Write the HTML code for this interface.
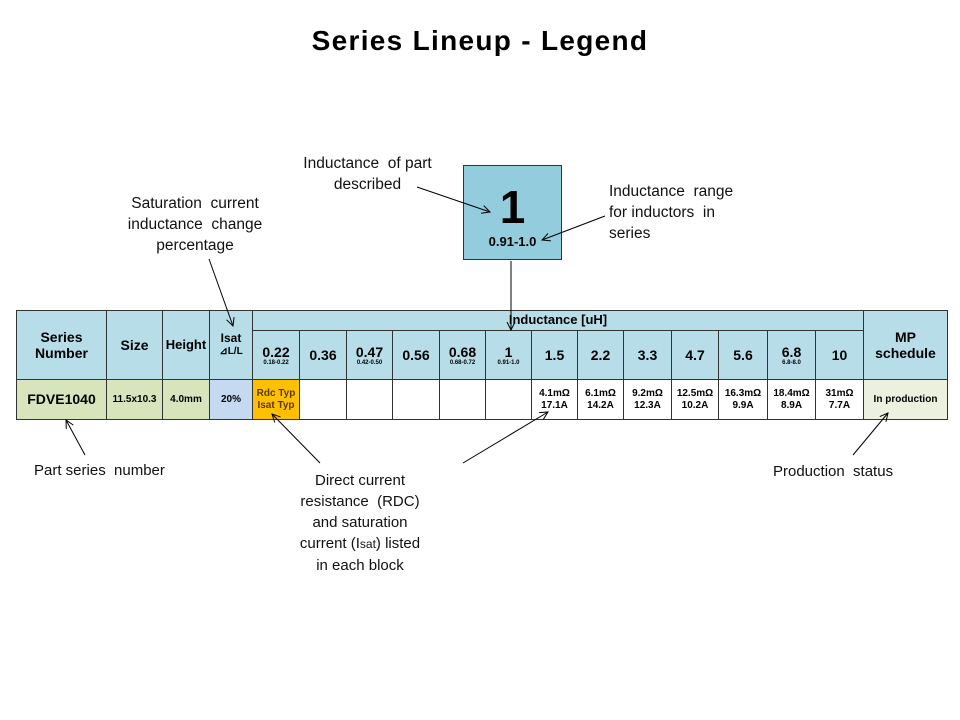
<!DOCTYPE html>
<html><head><meta charset="utf-8"><style>
body{margin:0;width:960px;height:720px;background:#fff;position:relative;overflow:hidden;font-family:"Liberation Sans",Arial,sans-serif}
.a{position:absolute}
.c{position:absolute;box-sizing:border-box;display:flex;flex-direction:column;align-items:center;justify-content:center;text-align:center;font-weight:bold;color:#000;line-height:1.15}
.t{font-size:15px;color:#111;text-align:center;line-height:21px;position:absolute}
small{font-size:6px;font-weight:bold}
</style></head><body>
<div class="a" style="left:0;width:960px;top:25px;text-align:center;font-size:28px;font-weight:bold;letter-spacing:1.3px">Series Lineup - Legend</div>

<div class="t" style="left:290px;top:153px;width:155px;font-size:15.5px">Inductance&nbsp; of part<br>described</div>
<div class="t" style="left:609px;top:181px;text-align:left;font-size:15.5px">Inductance&nbsp; range<br>for inductors&nbsp; in<br>series</div>
<div class="t" style="left:110px;top:193px;width:170px;font-size:15.5px">Saturation&nbsp; current<br>inductance&nbsp; change<br>percentage</div>
<div class="t" style="left:34px;top:460px">Part series&nbsp; number</div>
<div class="t" style="left:295px;top:470px;width:130px">Direct current<br>resistance&nbsp; (RDC)<br>and saturation<br>current (I<span style="font-size:12px">sat</span>) listed<br>in each block</div>
<div class="t" style="left:773px;top:461px">Production&nbsp; status</div>

<div class="c" style="left:463px;top:165px;width:99px;height:95px;background:#93cddd;border:1px solid #333">
<div style="font-size:46px;line-height:46px;margin-top:8px">1</div><div style="font-size:13px;margin-top:5px">0.91-1.0</div></div>

<div class="a" style="left:16px;top:310px;width:931px;height:109px;background:#b7dde8;border:1px solid #333;box-sizing:border-box"></div>
<div id="g"></div>

<svg class="a" style="left:0;top:0" width="960" height="720">
<defs><marker id="m" markerWidth="10" markerHeight="10" refX="9" refY="5" orient="auto" markerUnits="userSpaceOnUse"><path d="M1,1 L9,5 L1,9" fill="none" stroke="#000" stroke-width="1"/></marker></defs>
<g stroke="#000" stroke-width="1" fill="none" marker-end="url(#m)">
<line x1="417" y1="187" x2="490" y2="212"/>
<line x1="605" y1="216" x2="542" y2="240"/>
<line x1="511" y1="261" x2="511" y2="330"/>
<line x1="209" y1="259" x2="233" y2="326"/>
<line x1="85" y1="455" x2="66" y2="420"/>
<line x1="320" y1="463" x2="272" y2="414"/>
<line x1="463" y1="463" x2="548" y2="412"/>
<line x1="853" y1="455" x2="888" y2="413"/>
</g></svg>

<script>
const xs=[16,106,162,209,252,299,346,392,439,485,531,577,623,671,718,767,815,863,947];
const g=document.getElementById('g');
function cell(x1,y1,x2,y2,bg,html,fs){const d=document.createElement('div');d.className='c';d.style.cssText=`left:${x1}px;top:${y1}px;width:${x2-x1+1}px;height:${y2-y1+1}px;background:${bg};border:1px solid #333;font-size:${fs}px`;d.innerHTML=html;g.appendChild(d);}
const H='#b7dde8';
cell(16,310,106,379,H,'Series<br>Number',14);
cell(106,310,162,379,H,'Size',14);
cell(162,310,209,379,H,'Height',13);
cell(209,310,252,379,H,'Isat<br><span style="font-size:10px">⊿L/L</span>',12);
cell(252,310,863,330,H,'Inductance [uH]',13);
cell(863,310,947,379,H,'MP<br>schedule',14);
const hd=[['0.22','0.18-0.22'],['0.36',''],['0.47','0.42-0.50'],['0.56',''],['0.68','0.68-0.72'],['1','0.91-1.0'],['1.5',''],['2.2',''],['3.3',''],['4.7',''],['5.6',''],['6.8','6.8-8.0'],['10','']];
hd.forEach((h,i)=>cell(xs[i+4],330,xs[i+5],379,H,h[0]+(h[1]?'<small>'+h[1]+'</small>':''),14));
cell(16,379,106,419,'#d7e4bc','FDVE1040',14);
cell(106,379,162,419,'#d7e4bc','11.5x10.3',10);
cell(162,379,209,419,'#d7e4bc','4.0mm',10);
cell(209,379,252,419,'#c5d9f1','20%',10);
cell(252,379,299,419,'#ffc000','<span style="color:#5a3a00">Rdc Typ<br>Isat Typ</span>',10);
const dv=['','','','','','4.1mΩ<br>17.1A','6.1mΩ<br>14.2A','9.2mΩ<br>12.3A','12.5mΩ<br>10.2A','16.3mΩ<br>9.9A','18.4mΩ<br>8.9A','31mΩ<br>7.7A'];
dv.forEach((v,i)=>cell(xs[i+5],379,xs[i+6],419,'#fff',v,10));
cell(863,379,947,419,'#ebf1de','In production',10);
</script>
</body></html>
